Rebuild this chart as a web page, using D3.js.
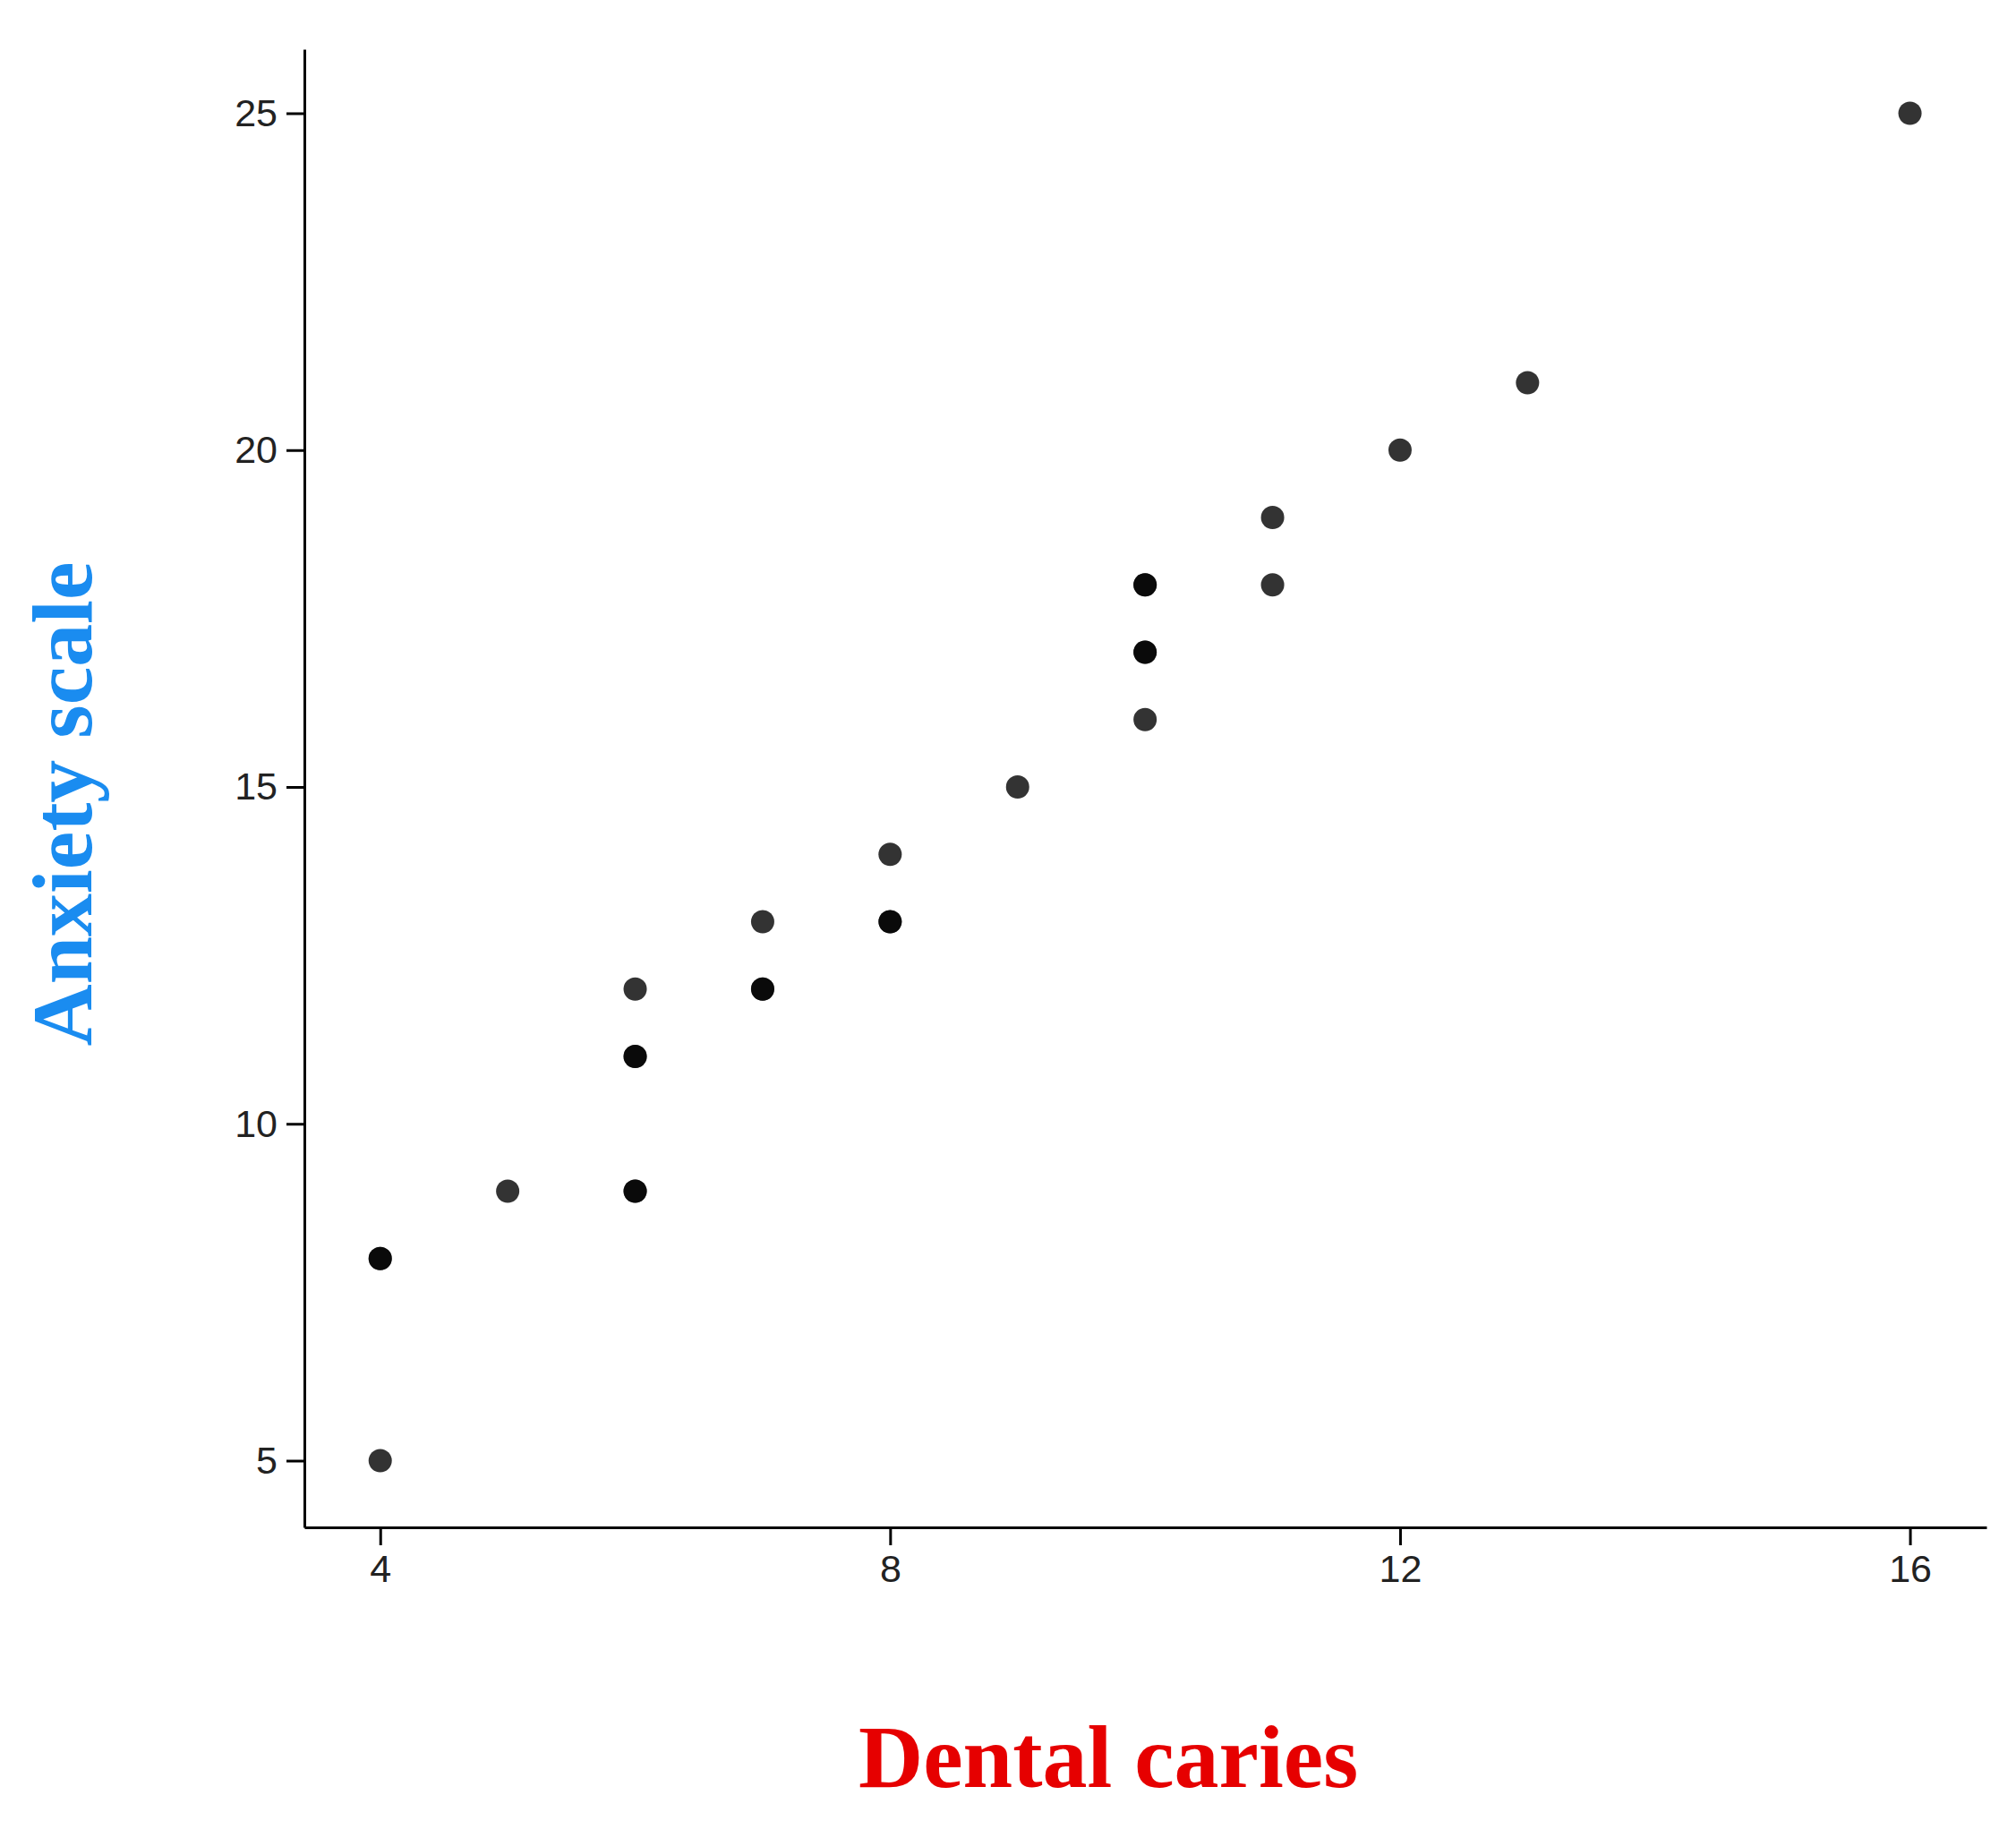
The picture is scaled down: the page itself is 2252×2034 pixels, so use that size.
<!DOCTYPE html>
<html><head><meta charset="utf-8">
<script src="https://cdn.jsdelivr.net/npm/d3@7"></script>
<style>body{margin:0;background:#fff}</style>
</head><body><svg width="2252" height="2034"></svg>
<script>
// observations (duplicates show as darker dots)
const caries  = [4, 4, 4, 5, 6, 6, 6, 6, 6, 7, 7, 7, 8, 8, 8, 9, 10, 10, 10, 10, 10, 11, 11, 12, 13, 16];
const anxiety = [5, 8, 8, 9, 9, 9, 11, 11, 12, 12, 12, 13, 13, 13, 14, 15, 16, 17, 17, 18, 18, 18, 19, 20, 21, 25];
const xTicks = [4, 8, 12, 16];
const yTicks = [5, 10, 15, 20, 25];

const svg = d3.select('svg');
const L = 340, R = 2219, T = 55, B = 1706;
const x = d3.scaleLinear().domain([3.405, 16.6]).range([L, R]);
const y = d3.scaleLinear().domain([4.01, 25.95]).range([B, T]);

const ax = svg.append('g').attr('transform', `translate(0,${B})`)
  .call(d3.axisBottom(x).tickValues(xTicks).tickSize(20).tickPadding(10).tickSizeOuter(0));
const ay = svg.append('g').attr('transform', `translate(${L},0)`)
  .call(d3.axisLeft(y).tickValues(yTicks).tickSize(20).tickPadding(10).tickSizeOuter(0));
[ax, ay].forEach(g => {
  g.selectAll('path,line').attr('stroke', '#000').attr('stroke-width', 3);
  g.selectAll('text').attr('font-family', 'Liberation Sans, Arial, sans-serif')
    .attr('font-size', 43).attr('fill', '#222');
});

svg.selectAll('circle').data(caries).enter().append('circle')
  .attr('cx', d => x(d)).attr('cy', (d, i) => y(anxiety[i]))
  .attr('r', 13).attr('fill', '#000').attr('fill-opacity', 0.8);

svg.append('text').attr('x', 1238).attr('y', 1996).attr('text-anchor', 'middle')
  .attr('font-family', 'Liberation Serif, Times New Roman, serif').attr('font-weight', 'bold')
  .attr('font-size', 100).attr('fill', '#e60000').text('Dental caries');
svg.append('text').attr('transform', 'translate(102,898) rotate(-90)').attr('text-anchor', 'middle')
  .attr('font-family', 'Liberation Serif, Times New Roman, serif').attr('font-weight', 'bold')
  .attr('font-size', 96).attr('fill', '#1a8cf0').text('Anxiety scale');
</script></body></html>
